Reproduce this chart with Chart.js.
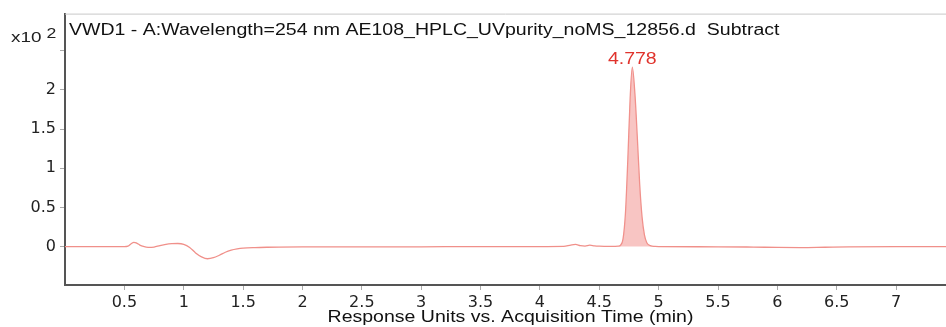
<!DOCTYPE html>
<html>
<head>
<meta charset="utf-8">
<script src="https://cdn.jsdelivr.net/npm/chart.js@4.4.1/dist/chart.umd.min.js"></script>
<style>
  html, body { margin: 0; padding: 0; background: #ffffff; }
  #wrap { width: 946px; height: 327px; position: relative; }
</style>
</head>
<body>
<div id="wrap"><canvas id="c" width="946" height="327"></canvas></div>
<script>
// ---- Data ----
const chartTitle = "VWD1 - A:Wavelength=254 nm AE108_HPLC_UVpurity_noMS_12856.d  Subtract";
const xAxisTitle = "Response Units vs. Acquisition Time (min)";
const yScaleLabel = "x10";
const yScaleExp = "2";
const peakLabel = "4.778";
const peakTime = 4.778;
const peakHeight = 2.29;
const peakFillStart = 4.66;
const peakFillEnd = 4.97;

const times = [
  0.00, 0.50, 0.53, 0.56, 0.58, 0.60, 0.63, 0.66, 0.70, 0.75, 0.80, 0.85, 0.90, 0.95,
  1.00, 1.05, 1.10, 1.15, 1.20, 1.25, 1.30, 1.35, 1.40, 1.45, 1.50, 1.60, 1.70, 1.80,
  2.00, 2.50, 3.00, 3.50, 4.00, 4.20, 4.26, 4.30, 4.34, 4.38, 4.42, 4.46, 4.50, 4.55,
  4.60, 4.66, 4.68, 4.70, 4.72, 4.74, 4.76, 4.778, 4.80, 4.82, 4.84, 4.86, 4.88, 4.90,
  4.93, 4.97, 5.00, 5.50, 5.80, 6.00, 6.20, 6.40, 6.60, 7.00, 7.42
];
const response = [
  0.000, 0.000, 0.006, 0.040, 0.053, 0.047, 0.020, 0.002, -0.010, -0.006, 0.014, 0.030, 0.038, 0.040,
  0.030, -0.010, -0.080, -0.130, -0.155, -0.142, -0.110, -0.072, -0.046, -0.030, -0.020, -0.012, -0.008, -0.006,
  -0.004, -0.003, -0.002, 0.000, 0.000, 0.002, 0.020, 0.028, 0.012, 0.006, 0.018, 0.010, 0.006, 0.004,
  0.003, 0.006, 0.020, 0.100, 0.420, 1.100, 1.900, 2.290, 1.950, 1.400, 0.800, 0.380, 0.150, 0.050,
  0.012, 0.002, 0.000, -0.002, -0.006, -0.010, -0.012, -0.008, -0.004, 0.000, 0.000
];
const xTicks = [0.5, 1, 1.5, 2, 2.5, 3, 3.5, 4, 4.5, 5, 5.5, 6, 6.5, 7];
const yTicks = [0, 0.5, 1, 1.5, 2, 2.5];
const yTickLabels = ["0", "0.5", "1", "1.5", "2", ""];

// ---- Build points ----
const trace = times.map((t, i) => ({ x: t, y: response[i] }));
const peakArea = trace.filter(p => p.x >= peakFillStart && p.x <= peakFillEnd);

const FONT = "'Liberation Sans', Arial, sans-serif";
const TICKFONT = "'DejaVu Sans', sans-serif";
const STRETCH = 1.22;

// draw text horizontally stretched (the reference image is wider than tall)
function stretchedText(ctx, text, x, y, align) {
  const w = ctx.measureText(text).width * STRETCH;
  let left = x;
  if (align === 'center') left = x - w / 2;
  else if (align === 'right') left = x - w;
  ctx.save();
  ctx.textAlign = 'left';
  ctx.translate(left, y);
  ctx.scale(STRETCH, 1);
  ctx.fillText(text, 0, 0);
  ctx.restore();
}

const decor = {
  id: 'decor',
  beforeDatasetsDraw(chart) {
    const { ctx, chartArea } = chart;
    ctx.save();
    ctx.strokeStyle = '#c8c8c8';
    ctx.lineWidth = 1;
    ctx.beginPath();
    ctx.moveTo(chartArea.left, chartArea.top + 0.5);
    ctx.lineTo(chartArea.right, chartArea.top + 0.5);
    ctx.stroke();
    ctx.restore();
  },
  afterDraw(chart) {
    const { ctx, chartArea, scales } = chart;
    ctx.save();
    ctx.textBaseline = 'alphabetic';
    // title inside plot
    ctx.fillStyle = '#111';
    ctx.font = '16px ' + FONT;
    stretchedText(ctx, chartTitle, chartArea.left + 4, 35, 'left');
    // x axis title
    ctx.fillStyle = '#111';
    ctx.font = '16px ' + FONT;
    stretchedText(ctx, xAxisTitle, (chartArea.left + chartArea.right) / 2 + 5, 321.5, 'center');
    // x10^2
    ctx.fillStyle = '#222';
    ctx.font = '15.5px ' + FONT;
    stretchedText(ctx, yScaleLabel, 11, 42, 'left');
    ctx.font = '14.5px ' + FONT;
    stretchedText(ctx, yScaleExp, 46.5, 38, 'left');
    // peak label
    const px = scales.x.getPixelForValue(peakTime);
    const py = scales.y.getPixelForValue(peakHeight);
    ctx.fillStyle = '#e0332c';
    ctx.font = '16px ' + FONT;
    stretchedText(ctx, peakLabel, px, py - 3, 'center');
    ctx.restore();
  }
};

new Chart(document.getElementById('c'), {
  type: 'line',
  data: {
    datasets: [
      {
        data: peakArea,
        borderWidth: 0,
        borderColor: 'rgba(0,0,0,0)',
        backgroundColor: 'rgba(242,150,145,0.55)',
        fill: 'origin',
        pointRadius: 0,
        cubicInterpolationMode: 'monotone'
      },
      {
        data: trace,
        borderColor: '#f0908a',
        borderWidth: 1.3,
        fill: false,
        pointRadius: 0,
        cubicInterpolationMode: 'monotone'
      }
    ]
  },
  options: {
    responsive: false,
    animation: false,
    events: [],
    layout: { padding: { top: 13, right: 0, left: 0, bottom: 0 } },
    plugins: { legend: { display: false }, tooltip: { enabled: false }, title: { display: false } },
    scales: {
      x: {
        type: 'linear',
        min: 0,
        max: 7.42,
        afterBuildTicks(scale) { scale.ticks = xTicks.map(v => ({ value: v })); },
        afterFit(scale) { scale.height = 42; },
        ticks: {
          color: '#222',
          font: { family: TICKFONT, size: 16 },
          padding: 3,
          maxRotation: 0,
          autoSkip: false,
          callback: (v) => String(v)
        },
        grid: { drawOnChartArea: false, drawTicks: true, tickLength: 5, color: '#aaaaaa' },
        border: { display: true, color: '#555555', width: 2 },
        title: { display: false }
      },
      y: {
        type: 'linear',
        min: -0.49,
        max: 2.975,
        afterBuildTicks(scale) { scale.ticks = yTicks.map(v => ({ value: v })); },
        afterFit(scale) { scale.width = 65; },
        ticks: {
          color: '#222',
          font: { family: TICKFONT, size: 16 },
          padding: 4,
          autoSkip: false,
          callback: (v) => { const i = yTicks.indexOf(v); return i >= 0 ? yTickLabels[i] : ''; }
        },
        grid: { drawOnChartArea: false, drawTicks: true, tickLength: 5, color: '#aaaaaa' },
        border: { display: true, color: '#555555', width: 2 }
      }
    }
  },
  plugins: [decor]
});
</script>
</body>
</html>
